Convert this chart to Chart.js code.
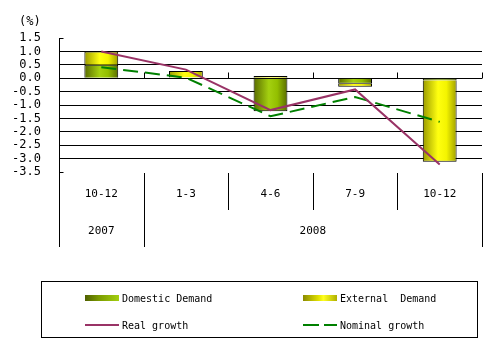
<!DOCTYPE html>
<html><head><meta charset="utf-8">
<script src="https://cdn.jsdelivr.net/npm/chart.js@4.4.1/dist/chart.umd.min.js"></script>
<style>
html,body{margin:0;padding:0;background:#fff;}
#wrap{position:relative;width:504px;height:347px;overflow:hidden;}
#legend{position:absolute;left:41px;top:281px;width:435px;height:55px;border:1px solid #000;font-family:'DejaVu Sans Mono',monospace;font-size:10px;color:#000;}
.item{position:absolute;display:flex;align-items:center;height:14px;white-space:pre;}
.sw{width:34px;height:6px;margin-right:3px;}
.ln{width:34px;height:2px;margin-right:3px;}
</style></head>
<body>
<div id="wrap">
<canvas id="c" width="504" height="347"></canvas>
<div id="legend"></div>
</div>
<script>
// ---- data ----
const categories = ['10-12', '1-3', '4-6', '7-9', '10-12'];
const years = ['2007', '2008'];
const yearSpans = [1, 4];
const domesticDemand = [0.50, 0.03, -1.23, -0.21, -0.08];
const externalDemand = [0.50, 0.24, 0.08, -0.11, -3.04];
const realGrowth = [1.00, 0.32, -1.19, -0.42, -3.22];
const nominalGrowth = [0.41, 0.02, -1.42, -0.70, -1.63];
const seriesNames = ['Domestic Demand', 'External  Demand', 'Real growth', 'Nominal growth'];
const yMin = -3.5, yMax = 1.5, yStep = 0.5;
const unitLabel = '(%)';

// ---- styles ----
const FONT = "'DejaVu Sans Mono', monospace";
const domStops = ['#5a6c00', '#a4d010', '#93bf00', '#5a6c00'];
const extStops = ['#9a9a00', '#ffff10', '#f4f400', '#a0a000'];
const BAR_PCT = 0.4;

function barGrad(stops) {
  return function (ctx) {
    const chart = ctx.chart;
    const area = chart.chartArea;
    const xs = chart.scales.x;
    if (!area || !xs || ctx.dataIndex === undefined) return stops[1];
    const cw = area.width / categories.length;
    const cx = xs.getPixelForValue(ctx.dataIndex);
    const w = cw * BAR_PCT;
    const g = chart.ctx.createLinearGradient(cx - w / 2, 0, cx + w / 2, 0);
    g.addColorStop(0, stops[0]);
    g.addColorStop(0.45, stops[1]);
    g.addColorStop(0.7, stops[2]);
    g.addColorStop(1, stops[3]);
    return g;
  };
}

const extras = {
  id: 'extras',
  afterDraw(chart) {
    const c = chart.ctx, a = chart.chartArea, ys = chart.scales.y;
    const n = categories.length, cw = a.width / n;
    const y0 = Math.round(ys.getPixelForValue(0)) + 0.5;
    const row1 = Math.round(a.bottom) + 1, row2 = 210, row3 = 247;
    c.save();
    c.strokeStyle = '#000';
    c.lineWidth = 1;
    c.beginPath();
    for (let i = 1; i <= n; i++) {
      const x = Math.round(a.left + i * cw) + 0.5;
      c.moveTo(x, y0 - 6); c.lineTo(x, y0);
    }
    const lx = Math.round(a.left) + 0.5;
    c.moveTo(lx, Math.round(a.top) + 0.5); c.lineTo(lx + 4, Math.round(a.top) + 0.5);
    c.moveTo(lx, Math.round(a.bottom) + 0.5); c.lineTo(lx + 4, Math.round(a.bottom) + 0.5);
    let idx = 0;
    const yearEdges = [0];
    yearSpans.forEach(s => { idx += s; yearEdges.push(idx); });
    for (let i = 0; i <= n; i++) {
      const x = Math.round(a.left + i * cw) + 0.5;
      const full = yearEdges.includes(i);
      c.moveTo(x, row1); c.lineTo(x, full ? row3 : row2);
    }
    c.stroke();
    c.fillStyle = '#000';
    c.font = '11px ' + FONT;
    c.textAlign = 'center';
    c.textBaseline = 'middle';
    let start = 0;
    years.forEach((yr, k) => {
      const x = a.left + (start + yearSpans[k] / 2) * cw;
      c.fillText(yr, x, 231);
      start += yearSpans[k];
    });
    c.font = '12px ' + FONT;
    c.textAlign = 'left';
    c.fillText(unitLabel, 19, 22);
    c.restore();
  }
};

const chart = new Chart(document.getElementById('c'), {
  data: {
    labels: categories,
    datasets: [
      { type: 'line', label: seriesNames[2], data: realGrowth, borderColor: '#993366', borderWidth: 2,
        pointRadius: 0, tension: 0, fill: false, stack: 'real', order: 0 },
      { type: 'line', label: seriesNames[3], data: nominalGrowth, borderColor: '#008000', borderWidth: 2,
        borderDash: [15, 7], pointRadius: 0, tension: 0, fill: false, stack: 'nominal', order: 0 },
      { type: 'bar', label: seriesNames[0], data: domesticDemand, backgroundColor: barGrad(domStops),
        borderColor: '#000', borderWidth: 1, stack: 'demand', order: 1,
        categoryPercentage: 1, barPercentage: BAR_PCT },
      { type: 'bar', label: seriesNames[1], data: externalDemand, backgroundColor: barGrad(extStops),
        borderColor: '#000', borderWidth: 1, stack: 'demand', order: 1,
        categoryPercentage: 1, barPercentage: BAR_PCT }
    ]
  },
  options: {
    responsive: false, animation: false, devicePixelRatio: 1,
    layout: { padding: { left: 0, right: 22, top: 38, bottom: 100 } },
    plugins: { legend: { display: false }, tooltip: { enabled: false } },
    scales: {
      x: {
        stacked: true, offset: true,
        grid: { display: false, drawTicks: false },
        border: { display: false },
        ticks: { color: '#000', font: { family: FONT, size: 11 }, padding: 16, maxRotation: 0, autoSkip: false },
        afterFit(s) { s.height = 75; }
      },
      y: {
        stacked: true, min: yMin, max: yMax,
        ticks: { stepSize: yStep, color: '#000', font: { family: FONT, size: 12, lineHeight: 1 }, padding: 18,
          autoSkip: false,
          callback: v => (Math.abs(v) < 1e-9 ? 0 : v).toFixed(1) },
        grid: { drawTicks: false, lineWidth: 1,
          color: c => (c.tick && (c.tick.value > yMax - 0.01 || c.tick.value < yMin + 0.01)) ? 'rgba(0,0,0,0)' : '#000' },
        border: { display: true, color: '#000', width: 1 },
        afterFit(s) { s.width = 59; }
      }
    }
  },
  plugins: [extras]
});

// ---- HTML legend ----
const leg = document.getElementById('legend');
const items = [
  { name: seriesNames[0], left: 43, top: 9, sw: 'linear-gradient(to right,#4f5f00,#7a9a00 40%,#a4d010)' },
  { name: seriesNames[1], left: 261, top: 9, sw: 'linear-gradient(to right,#8a8a00,#e0e000 45%,#ffff20 60%,#b0b000)' },
  { name: seriesNames[2], left: 43, top: 36, ln: '#993366' },
  { name: seriesNames[3], left: 261, top: 36, ln: 'linear-gradient(to right,#008000 0 16px,transparent 16px 21px,#008000 21px)' }
];
items.forEach(it => {
  const d = document.createElement('div');
  d.className = 'item';
  d.style.left = it.left + 'px';
  d.style.top = it.top + 'px';
  const s = document.createElement('span');
  if (it.sw) { s.className = 'sw'; s.style.background = it.sw; }
  else { s.className = 'ln'; s.style.background = it.ln; }
  d.appendChild(s);
  const t = document.createElement('span');
  t.textContent = it.name;
  d.appendChild(t);
  leg.appendChild(d);
});
</script>
</body></html>
